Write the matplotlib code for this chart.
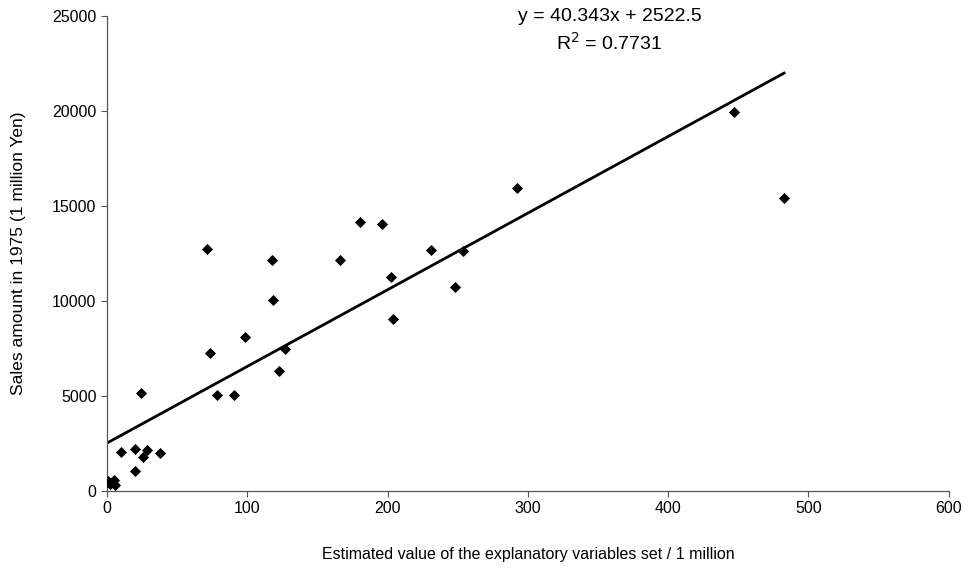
import matplotlib
matplotlib.use("Agg")
import matplotlib.pyplot as plt
import numpy as np

plt.rcParams['font.family'] = ['Liberation Sans', 'DejaVu Sans']

# Data
x_vals = [0, 1, 2, 3, 5, 6,
          10.2, 19.7, 28.7, 25.9, 38, 20.2, 24,
          71.5, 73.6, 78.2, 90.8, 98.1, 117.3, 118.3, 122.6, 127.1,
          166, 180.1, 196, 202.4, 203.6, 231.2, 248.3, 253.7, 292.4, 447, 482.7]
y_vals = [450, 550, 350, 400, 600, 300,
          2070, 2210, 2160, 1770, 1980, 1040, 5150,
          12720, 7260, 5040, 5040, 8090, 12140, 10070, 6320, 7490,
          12140, 14160, 14070, 11250, 9040, 12670, 10740, 12620, 15950, 19950, 15420]

slope = 40.343
intercept = 2522.5
r2 = 0.7731

x_ticks = [0, 100, 200, 300, 400, 500, 600]
y_ticks = [0, 5000, 10000, 15000, 20000, 25000]

fig = plt.figure(figsize=(9.70, 5.68), dpi=100)
ax = fig.add_axes([0.1103, 0.1356, 0.978 - 0.1103, 0.9718 - 0.1356])

ax.scatter(x_vals, y_vals, marker='D', s=32, color='black', zorder=3, linewidths=0)
xl = np.array([0, max(x_vals)])
ax.plot(xl, slope * xl + intercept, color='black', lw=2, zorder=2)

ax.set_xlim(0, 600)
ax.set_ylim(0, 25000)
ax.set_xticks(x_ticks)
ax.set_yticks(y_ticks)
ax.tick_params(labelsize=11.5, length=4, width=0.8, color='#555555', direction='out')
for s in ['top', 'right']:
    ax.spines[s].set_visible(False)
for s in ['left', 'bottom']:
    ax.spines[s].set_color('#555555')
    ax.spines[s].set_linewidth(0.9)

ax.set_xlabel('Estimated value of the explanatory variables set / 1 million', fontsize=11.5, labelpad=22)
ax.set_ylabel('Sales amount in 1975 (1 million Yen)', fontsize=12.5, labelpad=19)

ax.text(0.597, 1.0, f'y = {slope}x + {intercept}', transform=ax.transAxes,
        ha='center', va='center', fontsize=14, clip_on=False)
ax.text(0.597, 0.943, f'R$^2$ = {r2}', transform=ax.transAxes,
        ha='center', va='center', fontsize=14)

fig.savefig('out.png', dpi=100)
